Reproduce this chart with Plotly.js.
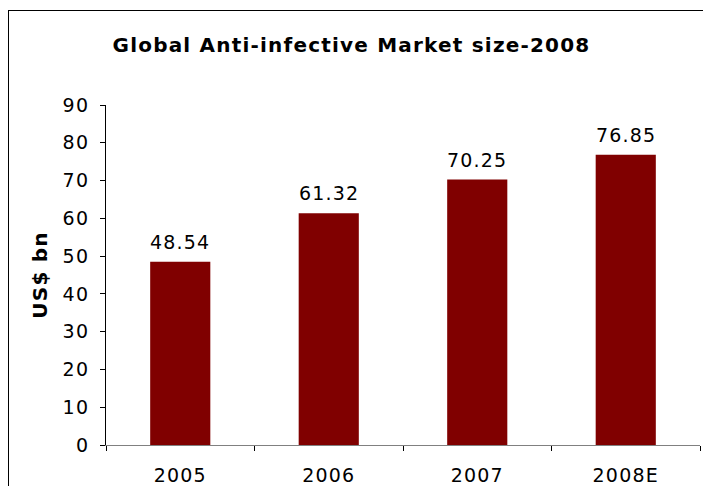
<!DOCTYPE html>
<html>
<head>
<meta charset="utf-8">
<script src="https://cdn.plot.ly/plotly-3.0.1.min.js"></script>
<style>
html,body{margin:0;padding:0;background:#fff;width:703px;height:486px;overflow:hidden;}
#frame{position:absolute;left:8px;top:10px;width:720px;height:500px;border:1px solid #000;box-sizing:border-box;}
#chart{position:absolute;left:0;top:0;width:703px;height:486px;}
#chart svg text{letter-spacing:1.2px;}
</style>
</head>
<body>
<div id="frame"></div>
<div id="chart"></div>
<script>
const categories = ["2005", "2006", "2007", "2008E"];
const values = [48.54, 61.32, 70.25, 76.85];
const labels = ["48.54", "61.32", "70.25", "76.85"];
const yTicks = [0, 10, 20, 30, 40, 50, 60, 70, 80, 90];

const font = "'DejaVu Sans', Verdana, sans-serif";

const annotations = categories.map((c, i) => ({
  x: i, y: values[i], xref: "x", yref: "y",
  text: labels[i], showarrow: false,
  yanchor: "bottom", yshift: 7,
  font: {family: font, size: 19, color: "#000"}
}));

Plotly.newPlot("chart", [{
  type: "bar",
  x: categories,
  y: values,
  marker: {color: "#800000"},
  width: 0.405,
  hoverinfo: "none"
}], {
  width: 703,
  height: 486,
  paper_bgcolor: "rgba(0,0,0,0)",
  plot_bgcolor: "rgba(0,0,0,0)",
  margin: {l: 106, r: 3, t: 105, b: 41},
  showlegend: false,
  annotations: annotations,
  title: {
    text: "<b>Global Anti-infective Market size-2008</b>",
    font: {family: font, size: 20, color: "#000"},
    x: 0.5, xanchor: "center", y: 0.907, yanchor: "middle"
  },
  xaxis: {
    type: "category",
    range: [-0.5, 3.5],
    showline: true, linecolor: "#808080", linewidth: 1,
    ticks: "outside", tickson: "boundaries", ticklen: 5, tickcolor: "#000",
    ticklabelstandoff: 13, tickangle: 0,
    tickfont: {family: font, size: 19, color: "#000"},
    showgrid: false, zeroline: false
  },
  yaxis: {
    range: [0, 90],
    tickvals: yTicks,
    showline: true, linecolor: "#000", linewidth: 1,
    ticks: "outside", ticklen: 5, tickcolor: "#000",
    ticklabelstandoff: 7,
    tickfont: {family: font, size: 19, color: "#000"},
    showgrid: false, zeroline: false,
    title: {text: "<b>US$ bn</b>", font: {family: font, size: 20, color: "#000"}, standoff: 12}
  },
  bargap: 0.6
}, {displayModeBar: false, staticPlot: true});
</script>
</body>
</html>
